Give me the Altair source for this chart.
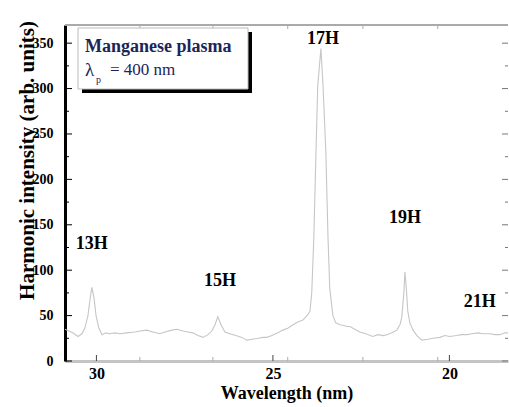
import altair as alt
import pandas as pd

# ---- data ----
wavelength = [30.89, 30.84, 30.67, 30.52, 30.41, 30.33, 30.24, 30.18, 30.13, 30.07,
              30.01, 29.93, 29.84, 29.73, 29.62, 29.48, 29.33, 29.14, 28.91, 28.77,
              28.57, 28.40, 28.20, 28.06, 27.86, 27.72, 27.55, 27.41, 27.27, 27.12,
              26.98, 26.84, 26.73, 26.64, 26.56, 26.47, 26.36, 26.22, 26.05, 25.88,
              25.74, 25.59, 25.42, 25.28, 25.17, 25.03, 24.86, 24.72, 24.58, 24.43,
              24.29, 24.15, 24.01, 23.95, 23.90, 23.84, 23.78, 23.73, 23.64, 23.58,
              23.50, 23.44, 23.39, 23.30, 23.22, 23.10, 22.99, 22.90, 22.82, 22.68,
              22.54, 22.37, 22.17, 22.03, 21.88, 21.77, 21.63, 21.49, 21.40, 21.35,
              21.29, 21.26, 21.22, 21.18, 21.12, 21.03, 20.92, 20.78, 20.61, 20.47,
              20.27, 20.13, 19.99, 19.79, 19.65, 19.50, 19.36, 19.19, 19.05, 18.85,
              18.71, 18.57, 18.43, 18.34]
intensity = [35, 34, 31, 27, 30, 36, 50, 68, 81, 70,
             50, 36, 29, 31, 30, 31, 30, 31, 32, 33,
             34, 32, 30, 32, 34, 35, 33, 32, 31, 28,
             26, 29, 33, 40, 49, 40, 32, 30, 28, 26,
             23, 24, 25, 26, 26, 28, 31, 34, 36, 40,
             43, 45, 51, 55, 75, 137, 230, 303, 344, 303,
             230, 137, 80, 50, 42, 40, 39, 38, 38, 35,
             32, 30, 27, 29, 28, 29, 31, 34, 40, 48,
             75, 98, 80, 55, 42, 34, 28, 23, 24, 25,
             26, 28, 27, 28, 29, 29, 30, 31, 30, 30,
             29, 29, 31, 31]

peak_names = ["13H", "15H", "17H", "19H", "21H"]
peak_label_w = [30.13, 26.50, 23.58, 21.26, 19.14]
peak_label_v = [129, 88, 355, 158, 65]

x_ticks = [30, 25, 20]
x_frame_ticks = [28.77, 26.70, 24.58, 22.45, 20.33]
y_major = [0, 50, 100, 150, 200, 250, 300, 350]
y_minor = [25, 75, 125, 175, 225, 275, 325]

W, H = 443, 336
SERIF = "Liberation Serif, Times New Roman, serif"

spec_df = pd.DataFrame({"w": wavelength, "v": intensity})
peaks_df = pd.DataFrame({"name": peak_names, "w": peak_label_w, "v": peak_label_v})

xscale = alt.Scale(domain=[18.34, 30.89], reverse=True, nice=False, zero=False)
yscale = alt.Scale(domain=[0, 370], nice=False, zero=True)

xaxis = alt.Axis(values=x_ticks, format="d", labelFont=SERIF, labelFontWeight="bold",
                 labelFontSize=16, labelColor="black", ticks=False, tickSize=0,
                 domainColor="#c4c4c4", domainWidth=3, grid=False, labelPadding=4,
                 title="Wavelength (nm)", titleFont=SERIF, titleFontSize=18,
                 titleFontWeight="bold", titleColor="black", titleY=32,
                 titleBaseline="middle")
yaxis = alt.Axis(values=y_major, labelFont=SERIF, labelFontWeight="bold",
                 labelFontSize=14, labelColor="black", ticks=False, tickSize=0,
                 domainColor="black", domainWidth=3, grid=False, labelPadding=12,
                 title="Harmonic intensity (arb. units)", titleFont=SERIF,
                 titleFontSize=21, titleFontWeight="bold", titleColor="black",
                 titleX=-32, titleY=135, titleBaseline="alphabetic", titleAngle=270)

line = alt.Chart(spec_df).mark_line(color="#c6c6c6", strokeWidth=1.1, clip=True).encode(
    x=alt.X("w:Q", scale=xscale, axis=xaxis),
    y=alt.Y("v:Q", scale=yscale, axis=yaxis),
)

def ydf(vals):
    return pd.DataFrame({"v": vals})

def xdf(vals):
    return pd.DataFrame({"w": vals})

left_major = alt.Chart(ydf(y_major)).mark_rule(color="black", strokeWidth=1).encode(
    y=alt.Y("v:Q", scale=yscale), x=alt.value(0), x2=alt.value(7))
left_minor = alt.Chart(ydf(y_minor)).mark_rule(color="black", strokeWidth=1).encode(
    y=alt.Y("v:Q", scale=yscale), x=alt.value(0), x2=alt.value(4))
right_major = alt.Chart(ydf(y_major)).mark_rule(color="#777777", strokeWidth=1).encode(
    y=alt.Y("v:Q", scale=yscale), x=alt.value(W), x2=alt.value(W - 6))
right_minor = alt.Chart(ydf(y_minor)).mark_rule(color="#777777", strokeWidth=1).encode(
    y=alt.Y("v:Q", scale=yscale), x=alt.value(W), x2=alt.value(W - 3))
bottom_major = alt.Chart(xdf(x_ticks)).mark_rule(color="#444444", strokeWidth=1).encode(
    x=alt.X("w:Q", scale=xscale), y=alt.value(H), y2=alt.value(H - 6))
bottom_frame = alt.Chart(xdf(x_frame_ticks)).mark_rule(color="#aaaaaa", strokeWidth=1).encode(
    x=alt.X("w:Q", scale=xscale), y=alt.value(H), y2=alt.value(H - 4))
top_frame = alt.Chart(xdf(x_frame_ticks)).mark_rule(color="#aaaaaa", strokeWidth=1).encode(
    x=alt.X("w:Q", scale=xscale), y=alt.value(0), y2=alt.value(4))
top_border = alt.Chart(ydf([0])).mark_rule(color="#aaaaaa", strokeWidth=2).encode(
    x=alt.value(0), x2=alt.value(W), y=alt.value(0))

one = alt.Data(values=[{"k": 1}])
shadow = alt.Chart(one).mark_rect(color="black").encode(
    x=alt.value(17), x2=alt.value(187), y=alt.value(7), y2=alt.value(68))
box = alt.Chart(one).mark_rect(fill="white", stroke="#bbbbbb", strokeWidth=1).encode(
    x=alt.value(13), x2=alt.value(183), y=alt.value(3), y2=alt.value(64))
t1 = alt.Chart(one).mark_text(text="Manganese plasma", font=SERIF, fontWeight="bold",
                              fontSize=18, color="#1c2458", align="left",
                              baseline="middle").encode(x=alt.value(20), y=alt.value(22))
t2 = alt.Chart(one).mark_text(text="λ", font=SERIF, fontSize=19, color="#1c2458",
                              align="left", baseline="middle").encode(
    x=alt.value(20), y=alt.value(45))
t3 = alt.Chart(one).mark_text(text="p", font=SERIF, fontSize=10, color="#1c2458",
                              align="left", baseline="middle").encode(
    x=alt.value(31), y=alt.value(55))
t4 = alt.Chart(one).mark_text(text="= 400 nm", font=SERIF, fontSize=17, color="#1c2458",
                              align="left", baseline="middle").encode(
    x=alt.value(45), y=alt.value(45))

labels = alt.Chart(peaks_df).mark_text(font=SERIF, fontWeight="bold", fontSize=18,
                                       color="black", align="center",
                                       baseline="middle").encode(
    x=alt.X("w:Q", scale=xscale), y=alt.Y("v:Q", scale=yscale), text="name:N")

chart = alt.layer(
    line, left_major, left_minor, right_major, right_minor, bottom_major,
    bottom_frame, top_frame, top_border, shadow, box, t1, t2, t3, t4, labels
).properties(
    width=W, height=H,
    autosize=alt.AutoSizeParams(type="none"),
    padding={"left": 65, "top": 25, "right": 1, "bottom": 46},
    background="white",
).configure_view(stroke=None)

chart.save("out.html", embed_options={"renderer": "svg", "actions": False})
